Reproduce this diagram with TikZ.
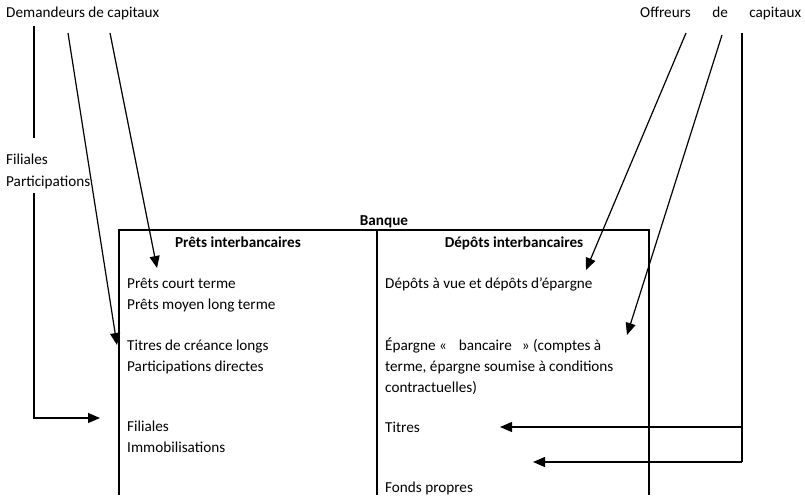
\documentclass[tikz,border=0pt]{standalone}
\usepackage{fontspec}
\setmainfont{Carlito}
\usetikzlibrary{arrows.meta}
\begin{document}
\begin{tikzpicture}[x=1pt,y=-1pt,
  txt/.style={anchor=base west,inner sep=0pt,font=\fontsize{15.2}{21}\selectfont},
  hdr/.style={anchor=base,inner sep=0pt,font=\fontsize{15.2}{21}\selectfont\bfseries},
  conn/.style={line width=1.2pt},
  arr/.style={conn,-{Triangle[length=12pt,width=10pt]}},
  frame/.style={line width=1.1pt}]
\useasboundingbox (0,0) rectangle (805,495);
% titles
\node[txt] (dem) at (6,18) {Demandeurs de capitaux};
\node[txt] (off) at (640,18) {\makebox[161pt][s]{Offreurs de capitaux}};
\node[txt] (fil1) at (6,164) {Filiales};
\node[txt] (par1) at (6,186) {Participations};
% bank frame
\coordinate (tl) at (119,230); \coordinate (tr) at (649,230);
\coordinate (tm) at (377,230);
\coordinate (bl) at (119,495); \coordinate (br) at (649,495);
\coordinate (bm) at (377,495);
\draw[frame] (bl) -- (tl) -- (tr) -- (br);
\draw[frame] (tm) -- (bm);
\node[hdr] (banque) at (384,225) {Banque};
\node[hdr] (prets) at (238,247) {Prêts interbancaires};
\node[hdr] (depots) at (514,247) {Dépôts interbancaires};
% left column
\node[txt] (l1) at (127,288) {Prêts court terme};
\node[txt] (l2) at (127,309) {Prêts moyen long terme};
\node[txt] (l3) at (127,350) {Titres de créance longs};
\node[txt] (l4) at (127,371) {Participations directes};
\node[txt] (l5) at (127,431) {Filiales};
\node[txt] (l6) at (127,452) {Immobilisations};
% right column
\node[txt] (r1) at (385,288) {Dépôts à vue et dépôts d’épargne};
\node[txt] (r2) at (385,350) {Épargne «\hspace{12pt}bancaire\hspace{10pt}» (comptes à};
\node[txt] (r3) at (385,371) {terme, épargne soumise à conditions};
\node[txt] (r4) at (385,392) {contractuelles)};
\node[txt] (r5) at (385,432) {Titres};
\node[txt] (r6) at (385,492) {Fonds propres};
% connectors left
\coordinate (a1s) at (34,26); \coordinate (a1e) at (34,138);
\draw[conn] (a1s) -- (a1e);
\coordinate (a2s) at (68,33); \coordinate (a2e) at (117,345);
\draw[arr] (a2s) -- (a2e);
\coordinate (a3s) at (110,33); \coordinate (a3e) at (157,268);
\draw[arr] (a3s) -- (a3e);
\coordinate (a4s) at (34,193); \coordinate (a4e) at (100,418);
\draw[arr] (a4s) |- (a4e);
% connectors right
\coordinate (b1s) at (686,33); \coordinate (b1e) at (586,270);
\draw[arr] (b1s) -- (b1e);
\coordinate (b2s) at (722,35); \coordinate (b2e) at (627,335);
\draw[arr] (b2s) -- (b2e);
\coordinate (b3s) at (742,33); \coordinate (b3e) at (742,462);
\coordinate (b3m) at (742,427);
\draw[conn] (b3s) -- (b3e);
\coordinate (t1) at (500,427); \coordinate (t2) at (533,462);
\draw[arr] (b3m) -- (t1);
\draw[arr] (b3e) -- (t2);
\end{tikzpicture}
\end{document}
